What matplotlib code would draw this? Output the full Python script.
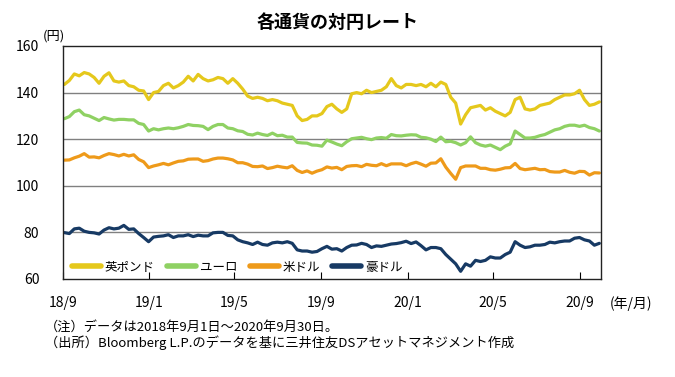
import matplotlib
matplotlib.use('Agg')
import matplotlib.pyplot as plt
import pandas as pd

plt.rcParams['font.family'] = ['Noto Sans CJK JP', 'DejaVu Sans']

# weekly points, Mondays from 2018-09-03 to 2020-09-28
dates = pd.date_range('2018-09-03', '2020-09-28', freq='7D')

gbp = [
    # 2018 Sep - Dec
    143.5, 145.2, 148.0, 147.2, 148.6, 148.0, 146.5, 144.0, 147.0, 148.5, 145.0, 144.5, 145.0, 143.0, 142.5, 141.0, 140.7, 137.0,
    # 2019
    140.0, 140.5, 143.0, 144.0, 142.0, 143.0, 144.5, 147.0, 145.0, 147.8, 146.0, 145.0, 145.5, 146.5, 146.0, 144.0, 146.0, 144.0, 141.5, 138.5, 137.5,
    138.0, 137.5, 136.5, 137.0, 136.5, 135.5, 135.0, 134.5, 130.0, 128.0, 128.5, 130.0, 130.0, 131.0, 134.0, 135.0, 133.0, 131.5, 133.0, 139.5, 140.0,
    139.5, 141.0, 140.0, 140.5, 141.0, 142.5, 146.0, 143.0, 142.0, 143.5,
    # 2020
    143.5, 143.0, 143.5, 142.5, 144.0, 142.5, 144.5, 143.5, 138.0, 135.5, 126.5, 130.5, 133.5, 134.0, 134.5, 132.5, 133.5, 132.0, 131.0, 130.0, 131.5,
    137.0, 138.0, 133.0, 132.5, 133.0, 134.5, 135.0, 135.5, 137.0, 138.0, 139.0, 139.0, 139.5, 141.0, 137.0, 134.5, 135.0, 136.0,
]

eur = [
    128.8, 129.7, 131.8, 132.5, 130.5, 130.0, 129.0, 128.0, 129.3, 128.7, 128.2, 128.5, 128.5, 128.3, 128.3, 126.8, 126.3, 123.5,
    124.5, 124.0, 124.5, 124.8, 124.5, 124.9, 125.5, 126.3, 125.9, 125.8, 125.5, 124.1, 125.5, 126.3, 126.3, 124.8, 124.5, 123.6, 123.3, 122.1, 121.8,
    122.6, 122.0, 121.6, 122.6, 121.5, 121.7, 120.9, 120.9, 118.6, 118.4, 118.3, 117.5, 117.4, 117.0, 119.6, 118.8, 117.9, 117.2, 118.9, 120.2, 120.5,
    120.8, 120.2, 119.8, 120.5, 120.7, 120.4, 122.0, 121.5, 121.4, 121.7,
    121.9, 121.8, 120.8, 120.6, 120.0, 119.0, 120.9, 118.9, 119.1, 118.5, 117.5, 118.5, 121.0, 118.5, 117.5, 117.0, 117.5, 116.5, 115.5, 117.0, 118.0,
    123.5, 122.0, 120.5, 120.5, 120.8, 121.5, 122.0, 123.0, 124.0, 124.5, 125.5, 126.0, 126.0, 125.5, 126.0, 125.0, 124.5, 123.5,
]

usd = [
    111.0, 111.1, 112.0, 112.7, 113.8, 112.3, 112.4, 112.0, 113.0, 113.8, 113.4, 112.8, 113.5, 112.8, 113.3, 111.3, 110.3, 107.8,
    108.5, 109.0, 109.6, 109.0, 109.8, 110.5, 110.7, 111.4, 111.5, 111.5, 110.5, 110.8, 111.5, 111.9, 111.9, 111.6, 111.1, 109.9, 109.9, 109.3, 108.3,
    108.2, 108.5, 107.4, 107.8, 108.4, 108.0, 107.7, 108.6, 106.6, 105.7, 106.4, 105.4, 106.3, 106.9, 108.1, 107.6, 107.9, 106.9, 108.3, 108.6, 108.7,
    108.2, 109.2, 108.8, 108.6, 109.5, 108.6, 109.4, 109.4, 109.4, 108.6,
    109.5, 110.1, 109.3, 108.4, 109.7, 109.8, 111.6, 108.0, 105.3, 102.8, 107.8, 108.5, 108.5, 108.5, 107.5, 107.5, 106.9, 106.7, 107.1, 107.7, 107.8,
    109.6, 107.4, 106.9, 107.2, 107.5, 106.9, 107.0, 106.1, 105.9, 105.9, 106.6, 105.8, 105.4, 106.2, 106.1, 104.6, 105.6, 105.5,
]

aud = [
    79.9, 79.5, 81.5, 81.8, 80.5, 80.0, 79.8, 79.3, 81.0, 82.0, 81.5, 81.8, 83.0, 81.3, 81.5, 79.5, 77.8, 76.0,
    78.0, 78.3, 78.5, 79.0, 77.8, 78.5, 78.5, 79.0, 78.2, 78.8, 78.5, 78.5, 79.8, 80.0, 80.0, 78.7, 78.5, 76.8, 76.0, 75.5, 74.8,
    75.8, 74.8, 74.5, 75.5, 75.8, 75.5, 76.0, 75.3, 72.5, 72.0, 72.0, 71.5, 71.8, 73.0, 74.0, 72.8, 73.0, 72.0, 73.5, 74.5, 74.6,
    75.3, 74.8, 73.5, 74.2, 74.0, 74.5, 75.0, 75.2, 75.6, 76.2,
    75.2, 75.9, 74.3, 72.5, 73.5, 73.5, 73.0, 70.5, 68.5, 66.5, 63.3, 66.5, 65.5, 68.0, 67.5, 68.0, 69.5, 69.0, 69.0, 70.5, 71.5,
    76.0, 74.5, 73.5, 73.8, 74.5, 74.5, 74.8, 75.8, 75.5, 76.0, 76.3, 76.3, 77.5, 77.8, 76.8, 76.3, 74.5, 75.3,
]

names = ['英ポンド', 'ユーロ', '米ドル', '豪ドル']
colors = ['#E5C81C', '#8FD163', '#EE9A1A', '#173A64']
tick_dates = ['2018-09-01', '2019-01-01', '2019-05-01', '2019-09-01',
              '2020-01-01', '2020-05-01', '2020-09-01']
tick_labels = ['18/9', '19/1', '19/5', '19/9', '20/1', '20/5', '20/9']

fig = plt.figure(figsize=(6.75, 3.77), dpi=100)
ax = fig.add_axes([0.0933, 0.26, 0.7967, 0.618])

for vals, name, c in zip([gbp, eur, usd, aud], names, colors):
    ax.plot(dates, vals, color=c, lw=2.3, label=name,
            solid_joinstyle='round', solid_capstyle='round')

ax.set_xlim(pd.Timestamp('2018-09-01'), pd.Timestamp('2020-09-30'))
ax.set_ylim(60, 160)
ax.set_yticks([60, 80, 100, 120, 140, 160])
ax.set_xticks(pd.to_datetime(tick_dates))
ax.set_xticklabels(tick_labels)
ax.tick_params(axis='x', direction='in', length=5, pad=12, labelsize=10)
ax.tick_params(axis='y', length=0, pad=17, labelsize=10)
for y in [80, 100, 120, 140]:
    ax.axhline(y, color='#808080', lw=1, zorder=0)
for s in ax.spines.values():
    s.set_color('#222222')
    s.set_linewidth(1)

leg = ax.legend(loc='center left', ncol=4, frameon=False, fontsize=9,
                handlelength=2.3, handletextpad=0.3, columnspacing=1.0,
                bbox_to_anchor=(0.008, 0.05), borderaxespad=0.0)
for h in leg.get_lines():
    h.set_linewidth(4)

fig.text(0.5, 0.94, '各通貨の対円レート', ha='center', va='center',
         fontsize=13, fontweight='bold')
fig.text(0.08, 0.905, '(円)', ha='center', va='center', fontsize=9.5)
fig.text(0.935, 0.195, '(年/月)', ha='center', va='center', fontsize=10)
fig.text(0.066, 0.132, '（注）データは2018年9月1日～2020年9月30日。', fontsize=9.5, va='center')
fig.text(0.066, 0.092, '（出所）Bloomberg L.P.のデータを基に三井住友DSアセットマネジメント作成', fontsize=9.5, va='center')

fig.savefig('out.png', dpi=100)
